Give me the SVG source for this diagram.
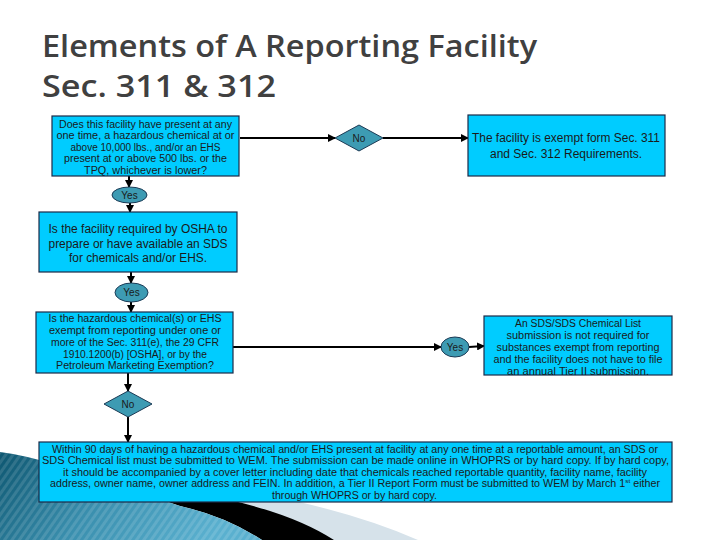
<svg xmlns="http://www.w3.org/2000/svg" width="720" height="540" viewBox="0 0 720 540">
<defs>
<style>
.box{fill:#00CCFF;stroke:#1b2a48;stroke-width:1.2}
.dec{fill:#3d9bb3;stroke:#1b3a55;stroke-width:1}
.t{font-family:"Liberation Sans",Arial,sans-serif;fill:#1a1a1a;text-anchor:middle}
.s10{font-size:10px}
.s12{font-size:12px}
.title{font-family:"Open Sans","DejaVu Sans",sans-serif;font-weight:600;font-size:30px;fill:#404040}
.c{stroke:#000;stroke-width:2;fill:none;marker-end:url(#ah)}
</style>
<marker id="ah" markerUnits="userSpaceOnUse" markerWidth="8" markerHeight="8" refX="7" refY="4" orient="auto">
<path d="M0,0 L8,4 L0,8 Z" fill="#000"/>
</marker>
<linearGradient id="tg" x1="0" y1="0" x2="1" y2="0.3">
<stop offset="0" stop-color="#0d5670"/>
<stop offset="0.5" stop-color="#3a8fae"/>
<stop offset="1" stop-color="#5ab0cf"/>
</linearGradient>
<pattern id="stripes" patternUnits="userSpaceOnUse" width="6" height="6" patternTransform="rotate(35)">
<rect width="3" height="6" fill="#ffffff" fill-opacity="0.12"/>
</pattern>
</defs>
<rect width="720" height="540" fill="#ffffff"/>
<g id="decoration">
<path d="M80,470 Q300,488 418,540 L332,540 Q290,514 230,500 Z" fill="#d6e2ea"/>
<path d="M60,466 L230,500 Q295,515 334,540 L262,540 Q225,516 180,506 Z" fill="#000"/>
<path d="M0,452 Q25,455 60,466 L180,506 Q225,516 262,540 L0,540 Z" fill="url(#tg)"/>
<path d="M0,452 Q25,455 60,466 L180,506 Q225,516 262,540 L0,540 Z" fill="url(#stripes)"/>
</g>
<g id="title">
<text class="title" x="42" y="57" textLength="495" lengthAdjust="spacingAndGlyphs">Elements of A Reporting Facility</text>
<text class="title" x="42" y="97" textLength="234" lengthAdjust="spacingAndGlyphs">Sec. 311 &amp; 312</text>
</g>
<g id="connectors">
<line class="c" x1="129" y1="176" x2="129" y2="187"/>
<line class="c" x1="130" y1="203" x2="130" y2="212"/>
<line class="c" x1="240" y1="138" x2="335" y2="138"/>
<line class="c" x1="383" y1="138" x2="468" y2="138"/>
<line class="c" x1="131" y1="272" x2="131" y2="283"/>
<line class="c" x1="131" y1="302" x2="131" y2="312"/>
<line class="c" x1="233" y1="347" x2="441" y2="347"/>
<line class="c" x1="469" y1="347" x2="484" y2="346"/>
<line class="c" x1="128" y1="373" x2="128" y2="391"/>
<line class="c" x1="128" y1="417" x2="128" y2="442"/>
</g>
<g id="q1">
<rect class="box" x="52" y="116" width="187" height="60"/>
<text class="t s10" x="145.5" y="127.5" textLength="173" lengthAdjust="spacingAndGlyphs">Does this facility have present at any</text>
<text class="t s10" x="145.5" y="139" textLength="178" lengthAdjust="spacingAndGlyphs">one time, a hazardous chemical at or</text>
<text class="t s10" x="145.5" y="150.5" textLength="150" lengthAdjust="spacingAndGlyphs">above 10,000 lbs., and/or an EHS</text>
<text class="t s10" x="145.5" y="162" textLength="163" lengthAdjust="spacingAndGlyphs">present at or above 500 lbs. or the</text>
<text class="t s10" x="145.5" y="173.5" textLength="123" lengthAdjust="spacingAndGlyphs">TPQ, whichever is lower?</text>
</g>
<g id="no1">
<path class="dec" d="M335,138 L359,125 L383,138 L359,151 Z"/>
<text class="t s10" x="359" y="141.5">No</text>
</g>
<g id="exempt">
<rect class="box" x="468" y="115" width="197" height="61"/>
<text class="t s12" x="566" y="142" textLength="188" lengthAdjust="spacingAndGlyphs">The facility is exempt form Sec. 311</text>
<text class="t s12" x="566" y="158">and Sec. 312 Requirements.</text>
</g>
<g id="yes1">
<ellipse class="dec" cx="129.5" cy="195" rx="17.5" ry="8"/>
<text class="t s10" x="129.5" y="198.5">Yes</text>
</g>
<g id="q2">
<rect class="box" x="39" y="212" width="198" height="60"/>
<text class="t s12" x="138" y="233" textLength="179" lengthAdjust="spacingAndGlyphs">Is the facility required by OSHA to</text>
<text class="t s12" x="138" y="247.5" textLength="179" lengthAdjust="spacingAndGlyphs">prepare or have available an SDS</text>
<text class="t s12" x="138" y="262" textLength="138" lengthAdjust="spacingAndGlyphs">for chemicals and/or EHS.</text>
</g>
<g id="yes2">
<ellipse class="dec" cx="131.5" cy="292.5" rx="16.5" ry="9.5"/>
<text class="t s10" x="131.5" y="296">Yes</text>
</g>
<g id="q3">
<rect class="box" x="36" y="312" width="197" height="61"/>
<text class="t s10" x="135" y="322" textLength="173" lengthAdjust="spacingAndGlyphs">Is the hazardous chemical(s) or EHS</text>
<text class="t s10" x="135" y="334" textLength="172" lengthAdjust="spacingAndGlyphs">exempt from reporting under one or</text>
<text class="t s10" x="135" y="346" textLength="168" lengthAdjust="spacingAndGlyphs">more of the Sec. 311(e), the 29 CFR</text>
<text class="t s10" x="135" y="357.5" textLength="144" lengthAdjust="spacingAndGlyphs">1910.1200(b) [OSHA], or by the</text>
<text class="t s10" x="135" y="369" textLength="158" lengthAdjust="spacingAndGlyphs">Petroleum Marketing Exemption?</text>
</g>
<g id="yes3">
<ellipse class="dec" cx="455" cy="347" rx="14" ry="10"/>
<text class="t s10" x="455" y="350.5">Yes</text>
</g>
<g id="notreq">
<rect class="box" x="484" y="316" width="188" height="59"/>
<text class="t s10" x="578" y="327" textLength="126" lengthAdjust="spacingAndGlyphs">An SDS/SDS Chemical List</text>
<text class="t s10" x="578" y="339" textLength="143" lengthAdjust="spacingAndGlyphs">submission is not required for</text>
<text class="t s10" x="578" y="351" textLength="163" lengthAdjust="spacingAndGlyphs">substances exempt from reporting</text>
<text class="t s10" x="578" y="363" textLength="169" lengthAdjust="spacingAndGlyphs">and the facility does not have to file</text>
<text class="t s10" x="578" y="375" textLength="142" lengthAdjust="spacingAndGlyphs">an annual Tier II submission.</text>
</g>
<g id="no2">
<path class="dec" d="M104,404 L128,391 L152,404 L128,417 Z"/>
<text class="t s10" x="128" y="407.5">No</text>
</g>
<g id="submit">
<rect class="box" x="39" y="442" width="633" height="60"/>
<text class="t s10" x="355" y="452.5" textLength="606" lengthAdjust="spacingAndGlyphs">Within 90 days of having a hazardous chemical and/or EHS present at facility at any one time at a reportable amount, an SDS or</text>
<text class="t s10" x="355.5" y="464" textLength="627" lengthAdjust="spacingAndGlyphs">SDS Chemical list must be submitted to WEM.  The submission can be made online in WHOPRS or by hard copy.  If by hard copy,</text>
<text class="t s10" x="355" y="475.5" textLength="584" lengthAdjust="spacingAndGlyphs">it should be accompanied by a cover letter including date that chemicals reached reportable quantity, facility name, facility</text>
<text class="t s10" x="355" y="487" textLength="610" lengthAdjust="spacingAndGlyphs">address, owner name, owner address and FEIN.  In addition, a Tier II Report Form must be submitted to WEM by March 1<tspan font-size="6" dy="-4">st</tspan><tspan dy="4"> either</tspan></text>
<text class="t s10" x="354.5" y="498.5" textLength="165" lengthAdjust="spacingAndGlyphs">through WHOPRS or by hard copy.</text>
</g>
</svg>
